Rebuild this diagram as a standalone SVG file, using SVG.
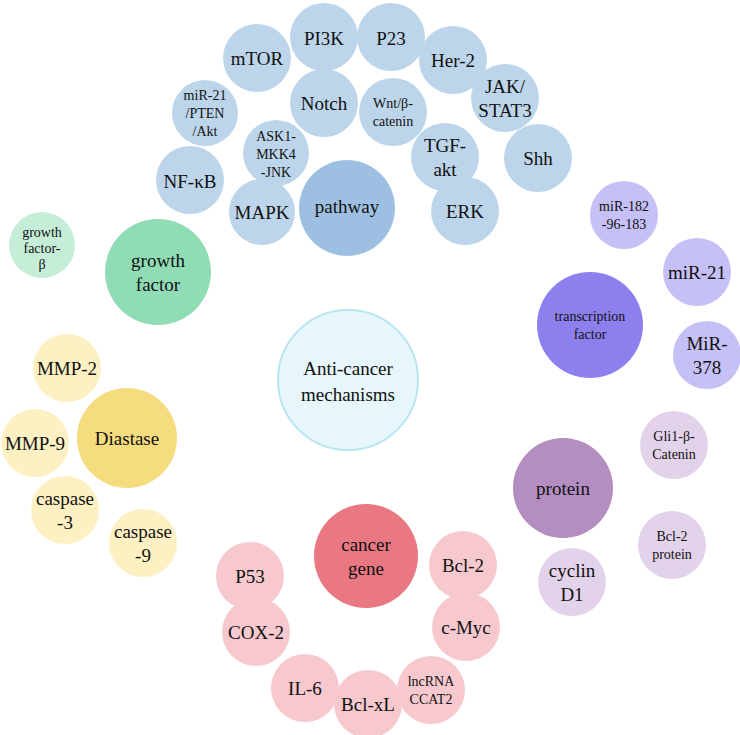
<svg xmlns="http://www.w3.org/2000/svg" width="740" height="735" viewBox="0 0 740 735" font-family="Liberation Serif, Times New Roman, DejaVu Serif, serif">
<style>
text{font-family:'Liberation Serif','Times New Roman','DejaVu Serif',serif;fill:#111;text-anchor:middle;dominant-baseline:central}
.b{fill:#bdd5ea}.B{fill:#9dc0e2}.g{fill:#c6edd8}.G{fill:#8fdcb5}.y{fill:#fdf0c2}.Y{fill:#f5dc7e}
.p{fill:#f7c9cf}.P{fill:#e97883}.v{fill:#c5c0f6}.V{fill:#8c80ef}.l{fill:#e3d3ea}.L{fill:#b48ec1}
.m{font-size:19px}.s{font-size:14px}.t{font-size:12px}
</style>
<rect width="740" height="735" fill="#fff"/>
<g id="connectors"/>
<g id="center"><circle cx="348" cy="380" r="70" fill="#e6f6fa" stroke="#b9e6ef" stroke-width="2"/><text class="m" x="348" y="368">Anti-cancer</text><text class="m" x="348" y="394">mechanisms</text></g>
<g id="mTOR"><circle class="b" cx="257" cy="58" r="34"/><text class="m" x="257" y="58">mTOR</text></g>
<g id="PI3K"><circle class="b" cx="324" cy="37" r="34"/><text class="m" x="324" y="38">PI3K</text></g>
<g id="P23"><circle class="b" cx="391" cy="37" r="34"/><text class="m" x="391" y="38">P23</text></g>
<g id="Her2"><circle class="b" cx="453" cy="60" r="34"/><text class="m" x="453" y="60">Her-2</text></g>
<g id="JAK"><circle class="b" cx="505" cy="98" r="34"/><text class="m" x="505" y="86">JAK/</text><text class="m" x="505" y="110">STAT3</text></g>
<g id="Shh"><circle class="b" cx="538" cy="158" r="34"/><text class="m" x="538" y="158">Shh</text></g>
<g id="Notch"><circle class="b" cx="324" cy="103" r="34"/><text class="m" x="324" y="103">Notch</text></g>
<g id="Wnt"><circle class="b" cx="393" cy="112" r="34"/><text class="s" x="393" y="103">Wnt/β-</text><text class="s" x="393" y="121">catenin</text></g>
<g id="TGF"><circle class="b" cx="445" cy="157" r="34"/><text class="m" x="445" y="145">TGF-</text><text class="m" x="445" y="169">akt</text></g>
<g id="ERK"><circle class="b" cx="465" cy="211" r="34"/><text class="m" x="465" y="211">ERK</text></g>
<g id="miR21PTEN"><circle class="b" cx="205" cy="113" r="33"/><text class="s" x="205" y="95">miR-21</text><text class="s" x="205" y="113">/PTEN</text><text class="s" x="205" y="131">/Akt</text></g>
<g id="ASK1"><circle class="b" cx="276" cy="153" r="33"/><text class="s" x="276" y="136">ASK1-</text><text class="s" x="276" y="154">MKK4</text><text class="s" x="276" y="172">-JNK</text></g>
<g id="NFkB"><circle class="b" cx="190" cy="180" r="34"/><text class="m" x="190" y="181">NF-κB</text></g>
<g id="MAPK"><circle class="b" cx="262" cy="212" r="33"/><text class="m" x="262" y="212">MAPK</text></g>
<g id="pathway"><circle class="B" cx="347" cy="208" r="48"/><text class="m" x="347" y="206">pathway</text></g>
<g id="growthfactor"><circle class="G" cx="158" cy="272" r="53"/><text class="m" x="158" y="260">growth</text><text class="m" x="158" y="284">factor</text></g>
<g id="gfb"><circle class="g" cx="42" cy="245" r="33"/><text class="s" x="42" y="232">growth</text><text class="s" x="42" y="248">factor-</text><text class="s" x="42" y="264">β</text></g>
<g id="Diastase"><circle class="Y" cx="127" cy="438" r="50"/><text class="m" x="127" y="438">Diastase</text></g>
<g id="MMP2"><circle class="y" cx="67" cy="368" r="34"/><text class="m" x="67" y="368">MMP-2</text></g>
<g id="MMP9"><circle class="y" cx="35" cy="443" r="34"/><text class="m" x="35" y="443">MMP-9</text></g>
<g id="casp3"><circle class="y" cx="65" cy="510" r="34"/><text class="m" x="65" y="498">caspase</text><text class="m" x="65" y="522">-3</text></g>
<g id="casp9"><circle class="y" cx="143" cy="543" r="34"/><text class="m" x="143" y="531">caspase</text><text class="m" x="143" y="555">-9</text></g>
<g id="cancergene"><circle class="P" cx="366" cy="556" r="52"/><text class="m" x="366" y="544">cancer</text><text class="m" x="366" y="568">gene</text></g>
<g id="P53"><circle class="p" cx="250" cy="576" r="34"/><text class="m" x="250" y="576">P53</text></g>
<g id="COX2"><circle class="p" cx="256" cy="632" r="34"/><text class="m" x="256" y="632">COX-2</text></g>
<g id="IL6"><circle class="p" cx="305" cy="688" r="34"/><text class="m" x="305" y="688">IL-6</text></g>
<g id="Bclxl"><circle class="p" cx="368" cy="704" r="34"/><text class="m" x="368" y="704">Bcl-xL</text></g>
<g id="lncRNA"><circle class="p" cx="431" cy="690" r="34"/><text class="s" x="431" y="681">lncRNA</text><text class="s" x="431" y="699">CCAT2</text></g>
<g id="cMyc"><circle class="p" cx="466" cy="627" r="34"/><text class="m" x="466" y="627">c-Myc</text></g>
<g id="Bcl2"><circle class="p" cx="463" cy="565" r="34"/><text class="m" x="463" y="565">Bcl-2</text></g>
<g id="tf"><circle class="V" cx="590" cy="325" r="53"/><text class="s" x="590" y="316">transcription</text><text class="s" x="590" y="334">factor</text></g>
<g id="miR182"><circle class="v" cx="624" cy="215" r="34"/><text class="s" x="624" y="206">miR-182</text><text class="s" x="624" y="224">-96-183</text></g>
<g id="miR21"><circle class="v" cx="697" cy="272" r="34"/><text class="m" x="697" y="272">miR-21</text></g>
<g id="miR378"><circle class="v" cx="707" cy="355" r="34"/><text class="m" x="707" y="343">MiR-</text><text class="m" x="707" y="367">378</text></g>
<g id="protein"><circle class="L" cx="563" cy="488" r="50"/><text class="m" x="563" y="488">protein</text></g>
<g id="gli"><circle class="l" cx="674" cy="445" r="34"/><text class="s" x="674" y="436">Gli1-β-</text><text class="s" x="674" y="454">Catenin</text></g>
<g id="bcl2p"><circle class="l" cx="672" cy="545" r="34"/><text class="s" x="672" y="536">Bcl-2</text><text class="s" x="672" y="554">protein</text></g>
<g id="cyclin"><circle class="l" cx="572" cy="582" r="34"/><text class="m" x="572" y="570">cyclin</text><text class="m" x="572" y="594">D1</text></g>
</svg>
